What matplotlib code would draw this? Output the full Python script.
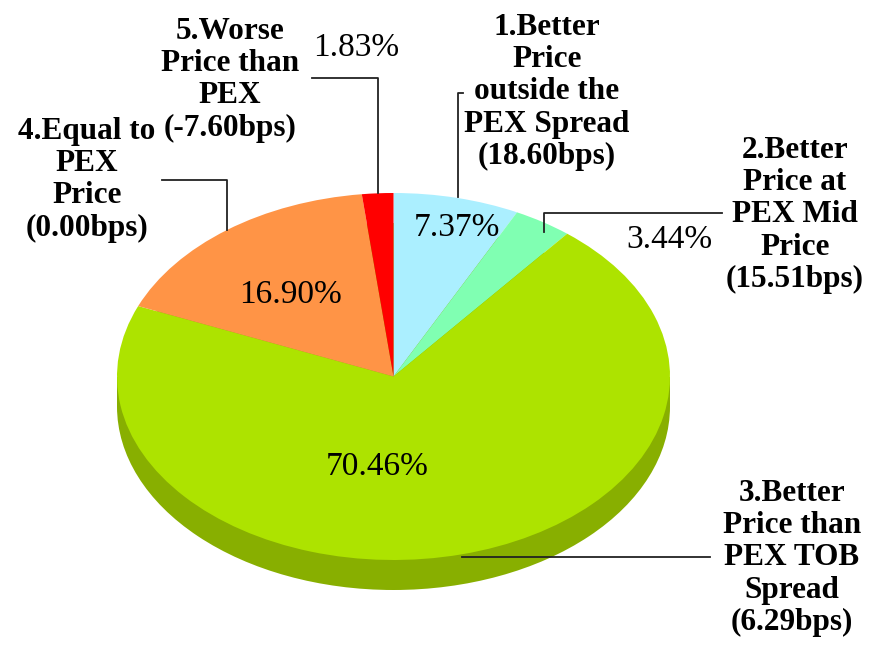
import matplotlib.pyplot as plt
from matplotlib.patches import Ellipse, Rectangle

# share of trades by price quality
labels = ["1.Better\nPrice\noutside the\nPEX Spread\n(18.60bps)",
          "2.Better\nPrice at\nPEX Mid\nPrice\n(15.51bps)",
          "3.Better\nPrice than\nPEX TOB\nSpread\n(6.29bps)",
          "4.Equal to\nPEX\nPrice\n(0.00bps)",
          "5.Worse\nPrice than\nPEX\n(-7.60bps)"]
shares = [7.37, 3.44, 70.46, 16.90, 1.83]
colors = ["#abefff", "#80ffb2", "#ade300", "#ff9446", "#ff0000"]
side_color = "#88af00"

W, H = 889, 647
fig = plt.figure(figsize=(W / 100, H / 100), dpi=100)

# pie axes placed so the unit circle becomes the ellipse of the top face
left, right, top, bottom = 117, 670, 193, 560
ax = fig.add_axes([left / W, 1 - bottom / H, (right - left) / W, (bottom - top) / H])
depth = 30 / ((bottom - top) / 2)

# side of the disc (only the big slice shows on the front)
ax.add_patch(Ellipse((0, -depth), 2, 2, color=side_color, lw=0, clip_on=False, zorder=0))
ax.add_patch(Rectangle((-1, -depth), 2, depth, color=side_color, lw=0, clip_on=False, zorder=0))

wedges, _ = ax.pie(shares, colors=colors, startangle=90, counterclock=False,
                   radius=1, wedgeprops=dict(linewidth=0))
for w in wedges:
    w.set_clip_on(False)
    w.set_zorder(2)
ax.set_aspect('auto')
ax.set_xlim(-1, 1)
ax.set_ylim(-1, 1)
ax.axis('off')

# overlay in pixel coords for labels and leader lines
ov = fig.add_axes([0, 0, 1, 1])
ov.set_xlim(0, W)
ov.set_ylim(H, 0)
ov.axis('off')
ov.patch.set_alpha(0)

serif = "Liberation Serif"
name_pos = [(547, 92), (795, 215), (792, 558), (87, 180), (230, 80)]
pct_pos = [(457, 228), (669, 240), (377, 467), (290, 295), (356, 48)]
for lab, (x, y) in zip(labels, name_pos):
    ov.text(x, y, lab, ha='center', va='center', fontsize=22.5, fontweight='bold',
            family=serif, linespacing=1.14)
for v, (x, y) in zip(shares, pct_pos):
    ov.text(x, y, f"{v:.2f}%", ha='center', va='center', fontsize=24, family=serif)

leaders = [([463, 458, 458], [93, 93, 197]),
           ([722, 544, 544], [213, 213, 232]),
           ([710, 462], [557, 557]),
           ([162, 227, 227], [180, 180, 230]),
           ([312, 378, 378], [78, 78, 193])]
for xs, ys in leaders:
    ov.plot(xs, ys, color='#222222', lw=1.3, zorder=5)

fig.savefig("out.png", dpi=100)
